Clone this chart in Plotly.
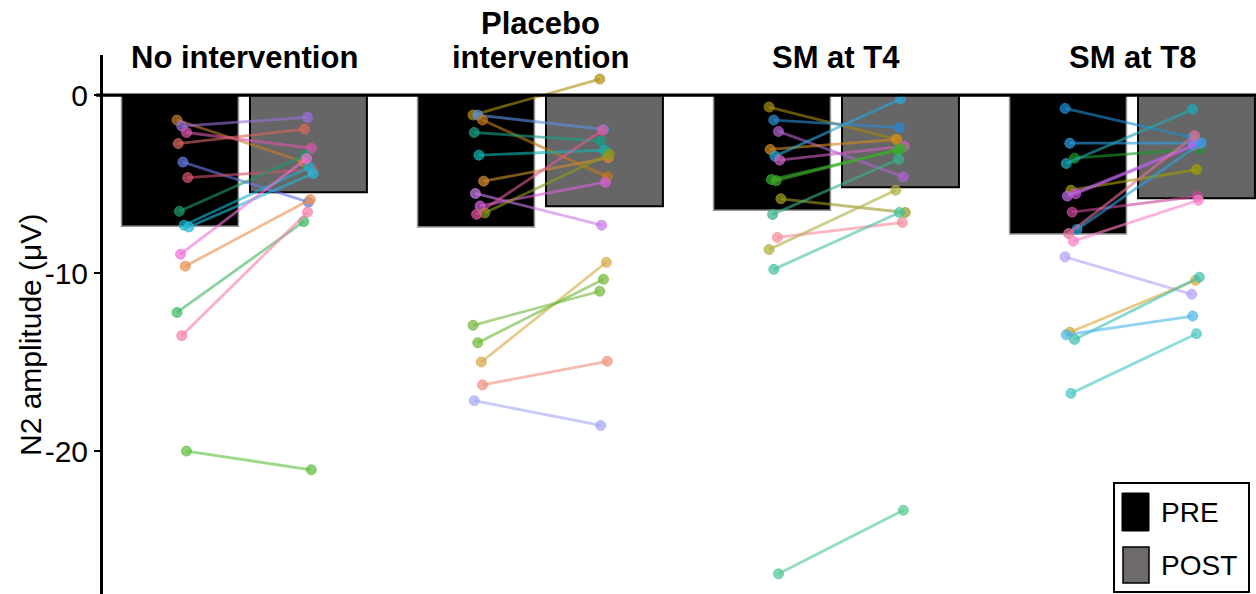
import plotly.graph_objects as go

# ---- data -------------------------------------------------------------
groups = ["No intervention", "Placebo<br>intervention", "SM at T4", "SM at T8"]

pre_mean = [-7.36, -7.40, -6.46, -7.80]
post_mean = [-5.45, -6.24, -5.17, -5.79]

g1_pre = [-1.40, -1.74, -2.10, -2.72, -3.76, -4.63, -6.52, -7.30, -7.40, -8.93, -9.60, -12.20, -13.50, -19.98]
g1_post = [-3.75, -1.25, -2.98, -1.91, -6.01, -4.18, -3.37, -4.05, -4.40, -3.56, -5.86, -7.10, -6.57, -21.03]
g1_colors = ["#c27a2c", "#9a70d8", "#d855a8", "#d4665a", "#6678e0", "#d0506a", "#1f9a6a",
             "#1ab0cc", "#22b8d8", "#f070d8", "#e89050", "#40b868", "#f880a8", "#60c040"]

g2_pre = [-1.12, -1.12, -1.40, -2.10, -3.37, -4.83, -5.52, -6.22, -6.61, -6.69, -14.98, -12.92, -13.90, -16.27, -17.15]
g2_post = [0.90, -1.93, -4.59, -2.58, -3.09, -3.52, -7.30, -4.89, -3.31, -1.97, -9.38, -11.01, -10.34, -14.94, -18.54]
g2_colors = ["#b09010", "#5a90e0", "#c07818", "#1a9e86", "#10b4b0", "#d08a30", "#c87ce8", "#d860d8",
             "#889a18", "#e05898", "#d8a848", "#78b840", "#70b838", "#f09080", "#a8a8f8"]

g3_pre = [-0.67, -1.40, -2.04, -3.05, -3.43, -3.65, -4.74, -4.80, -5.82, -6.70, -7.99, -8.67, -9.78, -26.87]
g3_post = [-2.47, -1.83, -4.59, -2.49, -0.22, -2.87, -3.09, -3.00, -6.59, -3.60, -7.15, -5.34, -6.59, -23.30]
g3_colors = ["#a08810", "#2a88d0", "#b060d0", "#d08820", "#28a8d8", "#d060c0", "#30b030", "#40a828",
             "#989a20", "#38b088", "#f88c9c", "#b0b040", "#48c0a0", "#50c890"]

g4_pre = [-0.75, -2.70, -3.54, -3.84, -5.34, -5.54, -5.67, -6.57, -7.55, -7.77, -8.20, -9.08, -13.31, -13.71, -13.45, -16.74]
g4_post = [-2.38, -2.70, -3.00, -0.80, -4.18, -2.72, -2.81, -5.69, -2.68, -2.28, -5.90, -11.18, -10.39, -10.22, -12.40, -13.39]
g4_colors = ["#1a8ed0", "#2a9ce0", "#1a9a2a", "#20a8b8", "#a09c00", "#c050d0", "#b868e8", "#c84898",
             "#2aa0e0", "#e07090", "#ff80c8", "#b8a0f8", "#d8a838", "#40c0b0", "#50b8e8", "#48c8c0"]

subjects = [(g1_pre, g1_post, g1_colors), (g2_pre, g2_post, g2_colors),
            (g3_pre, g3_post, g3_colors), (g4_pre, g4_post, g4_colors)]

y_ticks = [0, -10, -20]
y_title = "N2 amplitude (μV)"
legend_labels = ["PRE", "POST"]

# ---- geometry ---------------------------------------------------------
W, H = 1256, 594
ML, MT = 103, 55
OFF = 0.217        # PRE / POST offset from the group centre
BW = 0.395         # bar width
X_RANGE = [-0.477, 3.418]
Y_RANGE = [-28.0, 2.25]
FONT = "Liberation Sans, Arial, sans-serif"


def rgba(hex_color, a):
    h = hex_color.lstrip("#")
    r, g, b = int(h[0:2], 16), int(h[2:4], 16), int(h[4:6], 16)
    return f"rgba({r},{g},{b},{a})"


def px_to_paper_x(px):
    return (px - ML) / (W - ML)


def px_to_paper_y(py):
    return (H - py) / (H - MT)


fig = go.Figure()

centres = list(range(len(groups)))

fig.add_trace(go.Bar(
    x=[c - OFF for c in centres], y=pre_mean, width=BW,
    marker=dict(color="black", line=dict(color="#9a9a9a", width=1.5)),
    showlegend=False, hoverinfo="skip"))
fig.add_trace(go.Bar(
    x=[c + OFF for c in centres], y=post_mean, width=BW,
    marker=dict(color="#666666", line=dict(color="black", width=2)),
    showlegend=False, hoverinfo="skip"))

# individual subjects: PRE -> POST
for gi, (pre, post, cols) in enumerate(subjects):
    for si, (a, b, col) in enumerate(zip(pre, post, cols)):
        jit = (((si * 37) % 11) - 5) * 0.004
        fig.add_trace(go.Scatter(
            x=[gi - OFF + 0.01 + jit, gi + OFF + jit * 0.8],
            y=[a, b],
            mode="lines+markers",
            line=dict(color=rgba(col, 0.62), width=2.8),
            marker=dict(color=rgba(col, 0.72), size=10,
                        line=dict(color=rgba(col, 0.9), width=0.8)),
            showlegend=False, hoverinfo="skip", cliponaxis=False))

shapes = [
    # zero line across the panel
    dict(type="line", xref="paper", yref="y", x0=-0.006, x1=1, y0=0, y1=0,
         line=dict(color="black", width=3.2), layer="above"),
]

# legend box drawn by hand
shapes.append(dict(type="rect", xref="paper", yref="paper",
                   x0=px_to_paper_x(1114), x1=px_to_paper_x(1249),
                   y0=px_to_paper_y(592), y1=px_to_paper_y(483),
                   line=dict(color="black", width=2), fillcolor="white", layer="above"))
shapes.append(dict(type="rect", xref="paper", yref="paper",
                   x0=px_to_paper_x(1122), x1=px_to_paper_x(1149),
                   y0=px_to_paper_y(531), y1=px_to_paper_y(493),
                   line=dict(color="black", width=1), fillcolor="black", layer="above"))
shapes.append(dict(type="rect", xref="paper", yref="paper",
                   x0=px_to_paper_x(1123), x1=px_to_paper_x(1149),
                   y0=px_to_paper_y(583), y1=px_to_paper_y(547),
                   line=dict(color="black", width=1.5), fillcolor="#6e6a6a", layer="above"))

# group titles; a two-line title is stacked upward from the common baseline
annotations = []
TITLE_Y = 58
LINE_GAP = 35
for gi, name in enumerate(groups):
    lines = name.split("<br>")
    for li, line in enumerate(lines):
        py = TITLE_Y - (len(lines) - 1 - li) * LINE_GAP
        annotations.append(dict(
            x=gi, xref="x", y=px_to_paper_y(py), yref="paper",
            text=f"<b>{line}</b>", showarrow=False, xanchor="center", yanchor="middle",
            font=dict(family=FONT, size=31, color="black")))

for lab, py in zip(legend_labels, [512, 565]):
    annotations.append(dict(
        x=px_to_paper_x(1159), xref="paper", y=px_to_paper_y(py), yref="paper",
        text=lab, showarrow=False, xanchor="left", yanchor="middle",
        font=dict(family=FONT, size=28, color="black")))

# rotated y-axis title
annotations.append(dict(
    x=px_to_paper_x(30), xref="paper", y=px_to_paper_y(335), yref="paper",
    text=y_title, textangle=-90, showarrow=False, xanchor="center", yanchor="middle",
    font=dict(family=FONT, size=30, color="black")))

fig.update_layout(
    width=W, height=H,
    margin=dict(l=ML, r=0, t=MT, b=0, pad=0),
    paper_bgcolor="white", plot_bgcolor="white",
    barmode="overlay",
    shapes=shapes, annotations=annotations,
    xaxis=dict(range=X_RANGE, visible=False, fixedrange=True),
    yaxis=dict(range=Y_RANGE, tickvals=y_ticks, ticktext=[str(v) for v in y_ticks],
               showline=True, linecolor="black", linewidth=3,
               ticks="outside", ticklen=6, tickwidth=2, tickcolor="black",
               showgrid=False, zeroline=False,
               tickfont=dict(family=FONT, size=30, color="black")),
)

fig.write_html("out.html")
